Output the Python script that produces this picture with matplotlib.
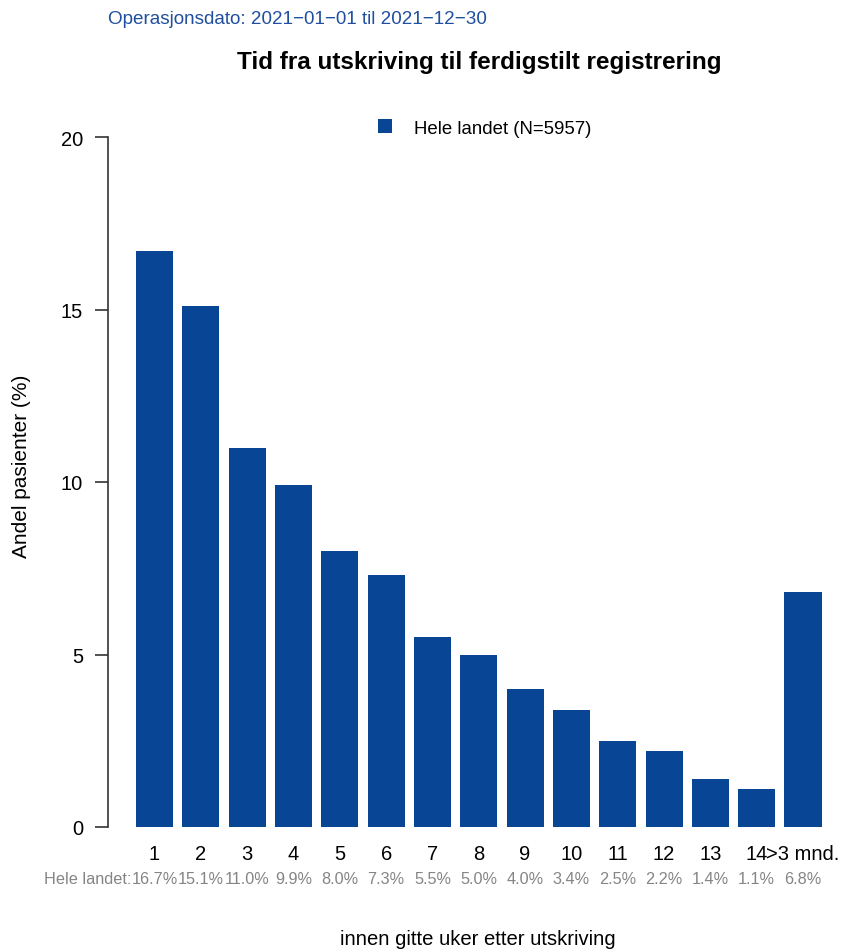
import matplotlib
matplotlib.use("Agg")
import matplotlib.pyplot as plt

plt.rcParams['font.family'] = ['Liberation Sans', 'DejaVu Sans']

categories = ['1', '2', '3', '4', '5', '6', '7', '8', '9', '10', '11', '12', '13', '14', '>3 mnd.']
values = [16.7, 15.1, 11.0, 9.9, 8.0, 7.3, 5.5, 5.0, 4.0, 3.4, 2.5, 2.2, 1.4, 1.1, 6.8]
yticks = [0, 5, 10, 15, 20]
series_name = 'Hele landet'
n_total = 5957
title = 'Tid fra utskriving til ferdigstilt registrering'
subtitle = 'Operasjonsdato: 2021\u221201\u221201 til 2021\u221212\u221230'
xlabel = 'innen gitte uker etter utskriving'
ylabel = 'Andel pasienter (%)'

W, H = 843, 953
fig = plt.figure(figsize=(W / 100, H / 100), dpi=100)

def fx(px):
    return px / W

def fy(py):
    return 1 - py / H

PT = 0.72  # points per pixel at 100 dpi

bar_color = '#084594'
ax = fig.add_axes([fx(108), fy(828), fx(830) - fx(108), fy(138) - fy(828)])
xs = list(range(1, len(values) + 1))
ax.bar(xs, values, width=0.8, color=bar_color, edgecolor='none')
ax.set_xlim(-0.005, 15.583)
ax.set_ylim(0, 20)
for s in ['top', 'right', 'bottom']:
    ax.spines[s].set_visible(False)
ax.spines['left'].set_color('#333333')
ax.spines['left'].set_linewidth(1.2)
ax.set_yticks(yticks)
ax.set_yticklabels([str(t) for t in yticks], fontsize=14.5)
ax.tick_params(axis='y', length=13 * PT, width=1.2, color='#333333', pad=12 * PT)
ax.set_xticks([])

# category labels and percentage labels under each bar
for x, c, v in zip(xs, categories, values):
    ax.annotate(c, xy=(x, 0), xycoords=('data', 'axes fraction'),
                xytext=(0, -27 * PT), textcoords='offset points',
                ha='center', va='center', fontsize=14.5, color='black')
    ax.annotate(f'{v:.1f}%', xy=(x, 0), xycoords=('data', 'axes fraction'),
                xytext=(0, -52 * PT), textcoords='offset points',
                ha='center', va='center', fontsize=11.7, color='#858585')
fig.text(fx(131), fy(880), f'{series_name}:', ha='right', va='center', fontsize=11.7, color='#858585')

fig.text(fx(22), fy(466), ylabel, ha='center', va='center', rotation=90, fontsize=15)
fig.text(fx(478), fy(940), xlabel, ha='center', va='center', fontsize=14.6)

fig.text(fx(479), fy(62), title, ha='center', va='center', fontsize=17.5, fontweight='bold')
fig.text(fx(108), fy(19), subtitle, ha='left', va='center', fontsize=13.6, color='#1f4f9e')

# legend
ax.bar([0], [0], color=bar_color, label=f'{series_name} (N={n_total})')
leg = ax.legend(loc='center left', bbox_to_anchor=(fx(378), fy(129)), bbox_transform=fig.transFigure,
                frameon=False, fontsize=13.4, handlelength=0.75, handleheight=0.75, handletextpad=1.2,
                borderaxespad=0, borderpad=0)

fig.savefig('out.png', dpi=100)
